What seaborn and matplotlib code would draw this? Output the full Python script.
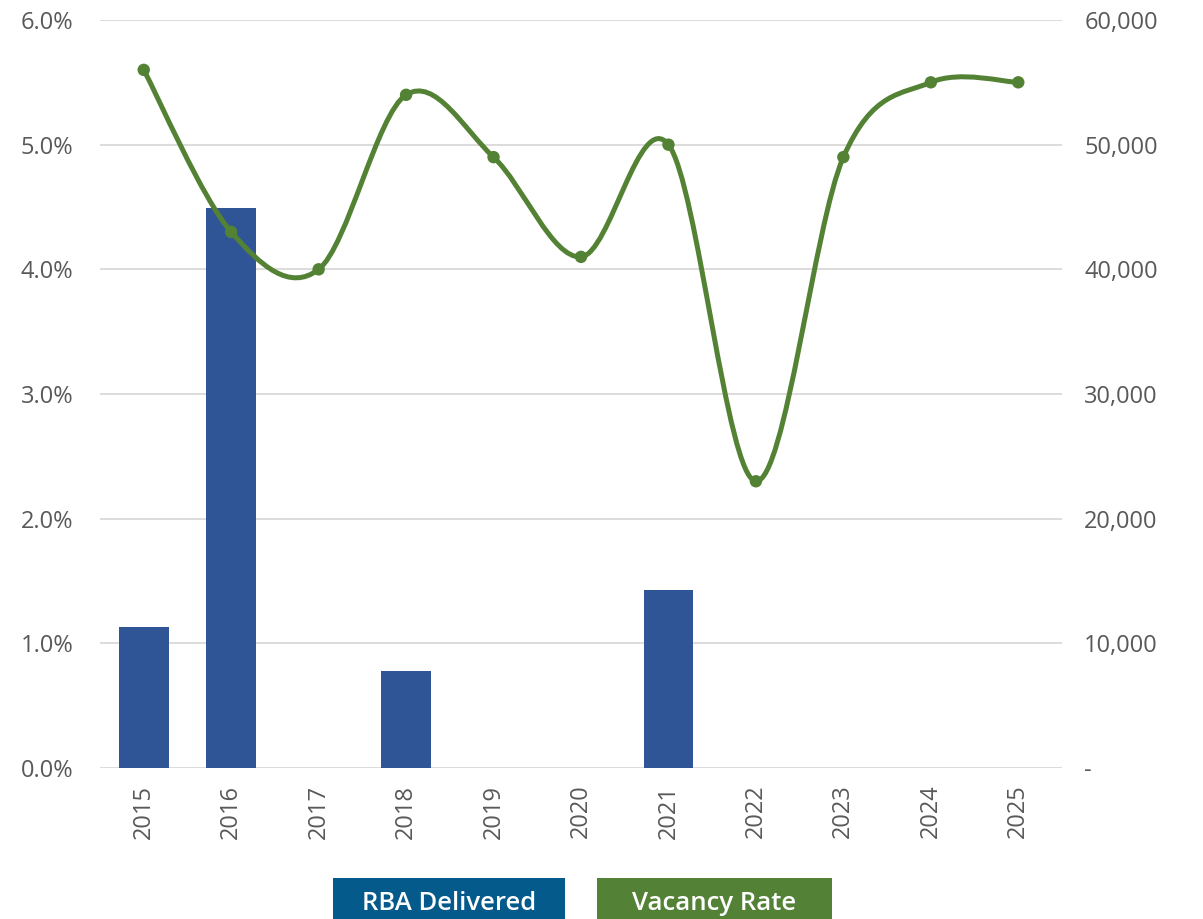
import numpy as np
import pandas as pd
import seaborn as sns
import matplotlib.pyplot as plt
from matplotlib.path import Path
from matplotlib.patches import PathPatch, Rectangle

# data
years = ["2015", "2016", "2017", "2018", "2019", "2020", "2021", "2022", "2023", "2024", "2025"]
rba_delivered = [11300, 44900, 0, 7800, 0, 0, 14300, 0, 0, 0, 0]
vacancy_rate = [5.6, 4.3, 4.0, 5.4, 4.9, 4.1, 5.0, 2.3, 4.9, 5.5, 5.5]

bar_col = "#2f5597"
line_col = "#548235"
legend_blue = "#055a8c"
legend_green = "#538135"
txt_col = "#595959"

sns.set_style("white")
plt.rcParams["font.family"] = ["Open Sans", "DejaVu Sans"]

W, H = 1203, 919
fig = plt.figure(figsize=(W / 100, H / 100), dpi=100)
ax = fig.add_axes([100 / W, 1 - 768 / H, 962 / W, 748 / H])
ax2 = ax.twinx()

# bars on the right (count) axis
df = pd.DataFrame({"year": years, "rba": rba_delivered})
sns.barplot(data=df, x="year", y="rba", ax=ax2, color=bar_col, width=0.57,
            saturation=1, edgecolor="none")
ax2.set_ylim(0, 60000)
ax2.set_yticks(range(0, 60001, 10000))
ax2.set_yticklabels(["-" if v == 0 else f"{v:,}" for v in range(0, 60001, 10000)])
ax2.grid(axis="y", color="#d9d9d9", linewidth=1.3)
ax2.set_axisbelow(True)
ax2.set_ylabel("")

# smoothed vacancy line on the left (percent) axis, drawn above the bars
ax.set_zorder(ax2.get_zorder() + 1)
ax.patch.set_visible(False)
pts = np.column_stack([np.arange(len(years)), vacancy_rate]).astype(float)
n = len(pts)
verts = [pts[0]]
codes = [Path.MOVETO]
for i in range(n - 1):
    p0 = pts[max(i - 1, 0)]
    p1 = pts[i]
    p2 = pts[i + 1]
    p3 = pts[min(i + 2, n - 1)]
    verts += [p1 + (p2 - p0) / 6, p2 - (p3 - p1) / 6, p2]
    codes += [Path.CURVE4] * 3
ax.add_patch(PathPatch(Path(verts, codes), facecolor="none", edgecolor=line_col,
                       linewidth=3.6, capstyle="round", joinstyle="round"))
sns.scatterplot(x=pts[:, 0], y=vacancy_rate, ax=ax, color=line_col, s=80,
                edgecolor="none", zorder=3)

ax.set_xlim(-0.5, len(years) - 0.5)
ax.set_ylim(0, 6)
ax.set_yticks(range(0, 7))
ax.set_yticklabels([f"{v:.1f}%" for v in range(0, 7)])

for a in (ax, ax2):
    for s in a.spines.values():
        s.set_visible(False)
    a.tick_params(length=0, colors=txt_col, labelsize=17)
ax.tick_params(axis="y", pad=19)
ax2.tick_params(axis="y", pad=16)
ax.tick_params(axis="x", pad=12)
ax2.tick_params(axis="x", pad=12)
ax2.set_xlabel("")
ax.set_xlabel("")
ax2.set_xticks(range(len(years)))
ax2.set_xticklabels(years, rotation=90)
ax.set_xticks(range(len(years)))
ax.set_xticklabels(years, rotation=90)

# legend boxes
for x0, x1, label, col in [(333, 565, "RBA Delivered", legend_blue),
                           (597, 832, "Vacancy Rate", legend_green)]:
    fig.patches.append(Rectangle((x0 / W, 0), (x1 - x0) / W, (H - 878) / H,
                                 transform=fig.transFigure, facecolor=col,
                                 edgecolor="none"))
    fig.text((x0 + x1) / 2 / W, 1 - 904 / H, label, color="white", fontsize=18.5,
             fontweight="semibold", ha="center", va="center")

fig.savefig("out.png", dpi=100)
